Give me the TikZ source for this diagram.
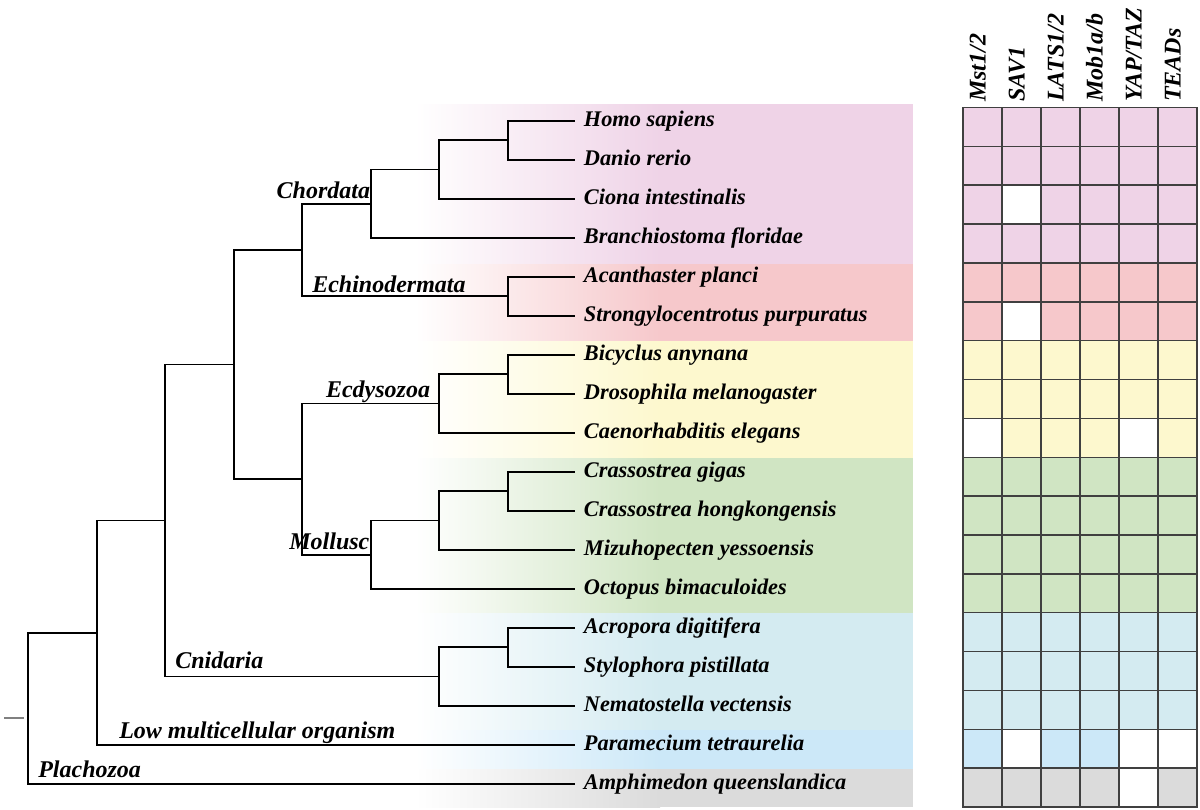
\documentclass[tikz,border=0pt]{standalone}
\usepackage{fontspec}
\setmainfont{Liberation Serif}
\usetikzlibrary{positioning}

\definecolor{chordc}{HTML}{EFD3E7}
\definecolor{echic}{HTML}{F6C8CB}
\definecolor{ecdc}{HTML}{FDF8CE}
\definecolor{mollc}{HTML}{D0E5C3}
\definecolor{cnic}{HTML}{D4EBF1}
\definecolor{paramc}{HTML}{CCE8F8}
\definecolor{amphic}{HTML}{DBDBDB}

\begin{document}
\begin{tikzpicture}
  [
    x = 0.75pt, y = -0.75pt,
    branch/.style = {line width = 1.4pt, black},
    species/.style = {anchor = mid west, inner xsep = 6.5pt, inner ysep = 0pt, yshift = -2pt,
        font = \fontsize{16.75}{18}\selectfont\bfseries\itshape},
    clade/.style = {inner sep = 0pt, font = \fontsize{18}{20}\selectfont\bfseries\itshape},
    gene/.style = {rotate = 90, anchor = mid west, inner sep = 0pt,
        font = \fontsize{18}{20}\selectfont\bfseries\itshape},
    cell/.style = {draw = black!75, line width = 1.1pt, inner sep = 0pt,
        minimum width = 29.25pt, minimum height = 29.15pt},
  ]

  \useasboundingbox (0,0) rectangle (1200,810);

  \foreach \t/\b/\c in {104/264/chordc, 264/341/echic, 341/458/ecdc, 458/613/mollc,
      613/730/cnic, 730/769/paramc, 769/807/amphic}{
      \shade [left color = white, right color = \c] (415,\t) rectangle (660,\b);
      \fill [\c] (659.5,\t) rectangle (913,\b);
    }

  \foreach \i/\name in {1/Homo sapiens, 2/Danio rerio, 3/Ciona intestinalis,
      4/Branchiostoma floridae, 5/Acanthaster planci, 6/Strongylocentrotus purpuratus,
      7/Bicyclus anynana, 8/Drosophila melanogaster, 9/Caenorhabditis elegans,
      10/Crassostrea gigas, 11/Crassostrea hongkongensis, 12/Mizuhopecten yessoensis,
      13/Octopus bimaculoides, 14/Acropora digitifera, 15/Stylophora pistillata,
      16/Nematostella vectensis, 17/Paramecium tetraurelia, 18/Amphimedon queenslandica}{
      \coordinate (tip-\i) at (575, {120.7 + 39*(\i-1)});
      \node [species] (sp-\i) at (tip-\i) {\name};
    }

  \coordinate (hd) at (508,140.2);
  \coordinate (ci) at (439,169.45);
  \coordinate (chord) at (371,203.6);
  \coordinate (echi) at (508,296.2);
  \coordinate (deut) at (302,249.9);
  \coordinate (bd) at (508,374.2);
  \coordinate (ecd) at (439,403.45);
  \coordinate (cc) at (508,491.2);
  \coordinate (mz) at (439,520.45);
  \coordinate (moll) at (371,554.6);
  \coordinate (prot) at (302,479);
  \coordinate (bila) at (234,364.5);
  \coordinate (ac) at (508,647.2);
  \coordinate (cni) at (439,676.45);
  \coordinate (meta) at (165,520.5);
  \coordinate (low) at (97,632.6);
  \coordinate (root) at (28,708.1);

  \foreach \p/\i in {hd/1, hd/2, ci/3, chord/4, echi/5, echi/6, bd/7, bd/8, ecd/9,
      cc/10, cc/11, mz/12, moll/13, ac/14, ac/15, cni/16, low/17, root/18}{
      \draw [branch] (\p) |- (tip-\i);
    }
  \foreach \p/\q in {ci/hd, chord/ci, deut/chord, deut/echi, ecd/bd, mz/cc, moll/mz,
      prot/ecd, prot/moll, bila/deut, bila/prot, cni/ac, meta/bila, meta/cni,
      low/meta, root/low}{
      \draw [branch] (\p) |- (\q);
    }

  \coordinate (tick-a) at (4,717.7);
  \coordinate (tick-b) at (24,717.7);
  \draw [gray, line width = 1.2pt] (tick-a) -- (tick-b);

  \node [clade, anchor = base east, xshift = -0.5pt, yshift = 3.5pt] (chordata) at (chord) {Chordata};
  \node [clade, anchor = base west, xshift = 7.5pt, yshift = 2.5pt] (echinodermata) at (deut |- echi) {Echinodermata};
  \node [clade, anchor = base east, xshift = -6.5pt, yshift = 4.5pt] (ecdysozoa) at (ecd) {Ecdysozoa};
  \node [clade, anchor = base east, xshift = -1pt, yshift = 3.5pt] (mollusc) at (moll) {Mollusc};
  \node [clade, anchor = base west, xshift = 7.5pt, yshift = 6.3pt] (cnidaria) at (meta |- cni) {Cnidaria};
  \node [clade, anchor = base west, xshift = 16.5pt, yshift = 5pt] (lowmc) at (low |- tip-17) {Low multicellular organism};
  \node [clade, anchor = base west, xshift = 7.5pt, yshift = 4.3pt] (plachozoa) at (root |- tip-18) {Plachozoa};

  \foreach \r/\c in {1/chordc, 2/chordc, 3/chordc, 4/chordc, 5/echic, 6/echic,
      7/ecdc, 8/ecdc, 9/ecdc, 10/mollc, 11/mollc, 12/mollc, 13/mollc,
      14/cnic, 15/cnic, 16/cnic, 17/paramc, 18/amphic}{
      \foreach \k in {1,...,6}{
          \node [cell, fill = \c] (cell-\r-\k) at ({963 + 39*(\k-0.5)}, {107.5 + 38.86*(\r-0.5)}) {};
        }
    }
  \foreach \r/\k in {3/2, 6/2, 9/1, 9/5, 17/2, 17/5, 17/6, 18/5}{
      \node [cell, fill = white] (gap-\r-\k) at (cell-\r-\k) {};
    }

  \foreach \k/\g in {1/{Mst1/2}, 2/SAV1, 3/{LATS1/2}, 4/{Mob1a/b}, 5/{YAP/TAZ}, 6/TEADs}{
      \node [gene] (gene-\k) at ({963 + 39*(\k-0.5)}, 102) {\g};
    }

\end{tikzpicture}
\end{document}
